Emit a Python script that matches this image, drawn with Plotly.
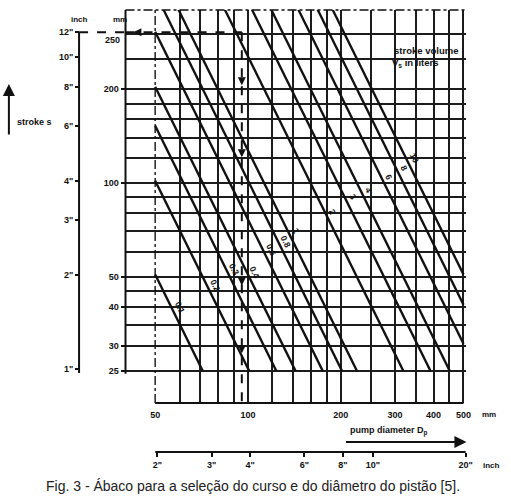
import math
import plotly.graph_objects as go

W, H = 511, 496

# ---------------- data ----------------
volumes = [0.1, 0.2, 0.3, 0.4, 0.6, 0.8, 1, 2, 3, 4, 6, 8, 10]          # litres
vol_labels = ["0.1", "0.2", "0.3", "0.4", "0.6", "0.8", "1", "2", "3", "4", "6", "8", "10"]
label_D = [60, 78, 90, 105, 119, 133, 143, 188, 219, 246, 287, 321, 346]  # mm
label_s = [40, 47, 53, 52, 61, 65, 70, 81, 90, 95, 105, 112, 120]        # mm

grid_D = [60, 70, 80, 90, 100, 120, 140, 160, 180, 200, 250, 300, 350, 400, 450, 500]
grid_s = [25, 30, 35, 40, 45, 50, 60, 70, 80, 90, 100, 120, 140, 160, 180, 200, 250, 300]

mm_x_ticks = [50, 100, 200, 300, 400, 500]
mm_x_text = ["50", "100", "200", "300", "400", "500"]
mm_y_ticks = [25, 30, 40, 50, 100, 200]
mm_y_text = ["25", "30", "40", "50", "100", "200"]
inch_y_ticks = [1, 2, 3, 4, 6, 8, 10, 12]
inch_y_text = ['1"', '2"', '3"', '4"', '6"', '8"', '10"', '12"']
inch_x_ticks = [2, 3, 4, 6, 8, 10, 20]
inch_x_text = ['2"', '3"', '4"', '6"', '8"', '10"', '20"']

D_lim = [50, 500]       # mm
s_lim = [25, 360]       # mm
sel_D = 95.5            # selected pump diameter, mm
sel_s = 304.8           # selected stroke (12 in), mm
sel_arrows_s = [206, 121, 47, 28.5]

MM_PER_INCH = 25.4

# ---------------- layout geometry ----------------
XR = [1.6028, 2.7086]
YR = [1.2954, 2.5550]
XD = [127 / W, 472 / W]
YD = [1 - 403 / H, 1 - 10 / H]
li = math.log10(MM_PER_INCH)
XR2 = [XR[0] - li, XR[1] - li]
YR2 = [YR[0] - li, YR[1] - li]

def px(x):
    return x / W

def py(y):
    return 1 - y / H

INK = "#111111"
FONT = dict(family="Liberation Sans", size=9, color=INK, weight="bold")

fig = go.Figure()

# constant-volume lines
for V in volumes:
    k = 4 * V * 1e6 / math.pi
    d1 = max(D_lim[0], math.sqrt(k / s_lim[1]))
    d2 = min(D_lim[1], math.sqrt(k / s_lim[0]))
    fig.add_trace(go.Scatter(x=[d1, d2], y=[k / d1 ** 2, k / d2 ** 2], mode="lines",
                             line=dict(color=INK, width=2.4), hoverinfo="skip",
                             showlegend=False))

# dummy traces so overlay axes are drawn
fig.add_trace(go.Scatter(x=[10], y=[100], xaxis="x2", yaxis="y", mode="markers",
                         marker=dict(opacity=0), showlegend=False, hoverinfo="skip"))
fig.add_trace(go.Scatter(x=[100], y=[5], xaxis="x", yaxis="y2", mode="markers",
                         marker=dict(opacity=0), showlegend=False, hoverinfo="skip"))

fig.update_layout(
    width=W, height=H, autosize=False,
    margin=dict(l=0, r=0, t=0, b=0),
    paper_bgcolor="white", plot_bgcolor="white",
    showlegend=False,
    xaxis=dict(type="log", range=XR, domain=XD, anchor="y",
               tickmode="array", tickvals=mm_x_ticks, ticktext=mm_x_text,
               ticks="outside", ticklen=3, tickcolor="rgba(0,0,0,0)",
               tickfont=FONT, showgrid=False, zeroline=False, showline=False,
               minor=dict(tickmode="array", tickvals=grid_D, showgrid=True,
                          gridcolor="#1c1c1c", gridwidth=1.6, ticks="")),
    yaxis=dict(type="log", range=YR, domain=YD, anchor="x",
               tickmode="array", tickvals=mm_y_ticks, ticktext=mm_y_text,
               ticks="outside", ticklen=4, tickwidth=1.5, tickcolor=INK,
               tickfont=FONT, showgrid=False, zeroline=False, showline=False,
               minor=dict(tickmode="array", tickvals=grid_s, showgrid=True,
                          gridcolor="#1c1c1c", gridwidth=1.6, ticks="")),
    xaxis2=dict(type="log", range=XR2, overlaying="x", anchor="free",
                position=py(452), side="bottom",
                tickmode="array", tickvals=inch_x_ticks, ticktext=inch_x_text,
                ticks="outside", ticklen=4, tickwidth=1.5, tickcolor=INK,
                tickfont=FONT, showgrid=False, zeroline=False, showline=False),
    yaxis2=dict(type="log", range=YR2, overlaying="y", anchor="free",
                position=px(80), side="left",
                tickmode="array", tickvals=inch_y_ticks, ticktext=inch_y_text,
                ticks="outside", ticklen=4, tickwidth=1.5, tickcolor=INK,
                tickfont=FONT, showgrid=False, zeroline=False, showline=False),
)

shapes = []
# axis lines
shapes.append(dict(type="line", xref="x domain", yref="y", x0=0, x1=0,
                   y0=24.5, y1=10 ** YR[1], line=dict(color=INK, width=2)))
shapes.append(dict(type="line", xref="x", yref="y domain", x0=D_lim[0], x1=D_lim[1],
                   y0=0, y1=0, line=dict(color=INK, width=2)))
shapes.append(dict(type="line", xref="paper", yref="y2", x0=px(80), x1=px(80),
                   y0=0.97, y1=12, line=dict(color=INK, width=2)))
shapes.append(dict(type="line", xref="x2", yref="paper", x0=1.97, x1=20,
                   y0=py(452), y1=py(452), line=dict(color=INK, width=2)))
# dash-dot borders
shapes.append(dict(type="line", xref="x", yref="y domain", x0=D_lim[0], x1=D_lim[0],
                   y0=0, y1=1, line=dict(color=INK, width=1.4, dash="dashdot")))
shapes.append(dict(type="line", xref="x domain", yref="y domain", x0=0, x1=1,
                   y0=1, y1=1, line=dict(color=INK, width=1.4, dash="dashdot")))
# selection path
shapes.append(dict(type="line", xref="paper", yref="y", x0=px(80), x1=XD[0],
                   y0=sel_s, y1=sel_s, line=dict(color=INK, width=2, dash="dash")))
shapes.append(dict(type="line", xref="x", yref="y", x0=10 ** XR[0], x1=sel_D,
                   y0=sel_s, y1=sel_s, line=dict(color=INK, width=2, dash="dash")))
shapes.append(dict(type="line", xref="x", yref="y", x0=sel_D, x1=sel_D,
                   y0=sel_s, y1=10 ** YR[0], line=dict(color=INK, width=2, dash="dash")))
fig.update_layout(shapes=shapes)

ann = []
for lab, d, s in zip(vol_labels, label_D, label_s):
    ann.append(dict(x=math.log10(d), y=math.log10(s), xref="x", yref="y", text=lab,
                    showarrow=False, textangle=63.4, font=dict(FONT, size=8.5)))
# selection arrowheads
for s in sel_arrows_s:
    ann.append(dict(x=math.log10(sel_D), y=math.log10(s), xref="x", yref="y", text="",
                    showarrow=True, ax=0, ay=-7, arrowhead=2, arrowsize=0.8,
                    arrowwidth=2, arrowcolor=INK, standoff=0))
ann.append(dict(x=math.log10(42.5), y=math.log10(sel_s), xref="x", yref="y", text="",
                showarrow=True, ax=8, ay=0, arrowhead=2, arrowsize=0.8,
                arrowwidth=2, arrowcolor=INK, standoff=0))

def ptext(x, y, t, anchor="center", size=9, **kw):
    ann.append(dict(x=px(x), y=py(y), xref="paper", yref="paper", text=t,
                    showarrow=False, xanchor=anchor, yanchor="middle",
                    font=dict(FONT, size=size), **kw))

ptext(80, 19, "inch", size=8)
ptext(121, 19, "mm", size=8)
ptext(123, 40, "250", anchor="right")
ptext(35, 122, "stroke s")
ptext(397, 51, "stroke volume", anchor="left", size=9.5)
ptext(395, 63, "V<sub>s</sub> in liters", anchor="left", size=9.5)
ptext(352, 431, "pump diameter D<sub>p</sub>", anchor="left", size=9)
ptext(486, 414, "mm", anchor="left", size=8)
ptext(487, 465, "inch", anchor="left", size=8)
# arrows
ann.append(dict(x=px(9), y=py(84), xref="paper", yref="paper", text="", showarrow=True,
                ax=0, ay=52, arrowhead=2, arrowsize=1.2, arrowwidth=2, arrowcolor=INK))
ann.append(dict(x=px(472), y=py(442), xref="paper", yref="paper", text="", showarrow=True,
                ax=-122, ay=0, arrowhead=2, arrowsize=1.2, arrowwidth=2, arrowcolor=INK))
# caption
ann.append(dict(x=px(256), y=py(486), xref="paper", yref="paper",
                text="Fig. 3 - Ábaco para a seleção do curso e do diâmetro do pistão [5].",
                showarrow=False, xanchor="center", yanchor="middle",
                font=dict(family="Liberation Sans", size=14, color="#222")))
fig.update_layout(annotations=ann)

fig.write_html("out.html", config={"displayModeBar": False},
               post_script="document.body.style.margin='0px';document.body.style.overflow='hidden';")
